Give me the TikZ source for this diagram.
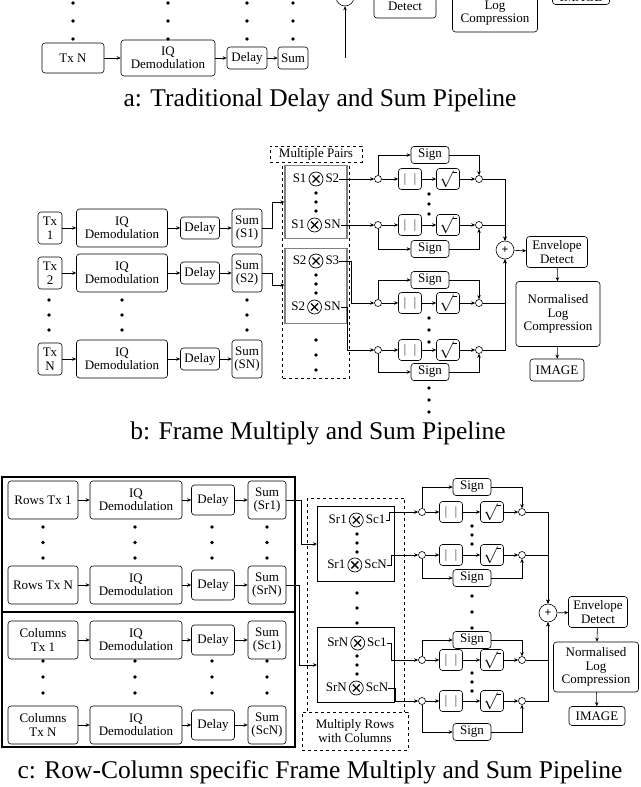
\documentclass[tikz,border=0pt]{standalone}
\usepackage{fontspec}
\setmainfont{Liberation Serif}
\usetikzlibrary{arrows.meta,calc}
\tikzset{
  bx/.style={draw, rounded corners=3pt, align=center, inner sep=0.5pt, font=\fontsize{13}{13.5}\selectfont},
  ar/.style={-{Stealth[length=4pt,width=3.5pt]}},
  dotc/.style={draw, circle, minimum size=7pt, inner sep=0pt, fill=white},
  sumc/.style={draw, circle, minimum size=18pt, inner sep=0pt, font=\bfseries\large},
  captxt/.style={font=\fontsize{25.5}{28}\selectfont},
  pairs/.style={font=\fontsize{13}{13.5}\selectfont, inner sep=0pt},
  grp/.style={draw=gray, line width=1.2pt},
  dsh/.style={draw, dashed},
}
\newcommand\vd[3]{\fill (#1,#2) circle (1.9pt) (#1,#2+#3) circle (1.9pt) (#1,#2+2*#3) circle (1.9pt);}
\newcommand\ox{\,\tikz[baseline={(0pt,-3.5pt)}]{\draw[line width=0.7pt] (0pt,0pt) circle (7pt); \draw[line width=1.3pt] (-3.5pt,-3.5pt)--(3.5pt,3.5pt) (-3.5pt,3.5pt)--(3.5pt,-3.5pt);}\,}
\newcommand\sq{\raisebox{-2pt}{\scalebox{1.4}{$\surd$}\hspace{-1pt}\rule[11pt]{4pt}{0.6pt}}}
% id, y, xcirc, xabs, xsqrt, xcomb, xsign, ysign
\newcommand\chainrow[8]{%
  \node[dotc] (#1a) at (#3,#2) {};
  \node[bx, minimum width=23pt, minimum height=21pt] (#1b) at (#4,#2) {$\vert\;\;\vert$};
  \node[bx, minimum width=23pt, minimum height=21pt, inner sep=0pt] (#1c) at (#5,#2) {\sq};
  \node[dotc] (#1d) at (#6,#2) {};
  \node[bx, minimum width=38pt, minimum height=17pt] (#1s) at (#7,#8) {Sign};
  \draw[ar] (#1a) -- (#1b);
  \draw[ar] (#1b) -- (#1c);
  \draw[ar] (#1c) -- (#1d);
  \draw[ar] (#1a) |- (#1s);
  \draw[ar] (#1s) -| (#1d);
}
\begin{document}
\begin{tikzpicture}[x=1pt,y=-1pt,line width=0.6pt]
\useasboundingbox (0,0) rectangle (640,787);
% ---------------- panel a -----------------
\vd{73}{3}{18}\vd{168}{3}{18}\vd{247}{3}{18}\vd{293}{3}{18}
\node[bx, minimum width=62pt, minimum height=30pt] (aTx) at (73,58) {Tx N};
\node[bx, minimum width=94pt, minimum height=36pt] (aIQ) at (168,58) {IQ\\Demodulation};
\node[bx, minimum width=40pt, minimum height=22pt] (aDe) at (247,58) {Delay};
\node[bx, minimum width=30pt, minimum height=22pt] (aSu) at (293,58) {Sum};
\draw[ar] (aTx) -- (aIQ); \draw[ar] (aIQ) -- (aDe); \draw[ar] (aDe) -- (aSu);
\node[sumc] (aP) at (345,-3) {+};
\coordinate (aIn) at (345,58);
\draw[ar] (aIn) -- (aP);
\coordinate (aL) at (328,-3);
\draw[ar] (aL) -- (aP);
\node[bx, minimum width=62pt, minimum height=38pt] (aEn) at (405,-1) {Envelope\\Detect};
\node[bx, minimum width=85pt, minimum height=52pt, align=center] (aLog) at (495,6) {Normalised\\Log\\Compression};
\node[bx, minimum width=57pt, minimum height=15pt] (aIm) at (581,-3) {IMAGE};
\draw[ar] (aP) -- (aEn); \draw[ar] (aEn.east|-aP) -- (aLog.west|-aP); \draw[ar] (aLog.east|-aP) -- (aIm);
\node[captxt] (capa) at (320,100) {a: Traditional Delay and Sum Pipeline};
% ---------------- panel b -----------------
\foreach \i/\y/\t/\s in {1/228/1/S1, 2/273/2/S2, 3/359/N/SN}{
  \node[bx, minimum width=24pt, minimum height=32pt] (bTx\i) at (50,\y) {Tx\\\t};
  \node[bx, minimum width=91pt, minimum height=38pt] (bIQ\i) at (122,\y) {IQ\\Demodulation};
  \node[bx, minimum width=39pt, minimum height=22pt] (bDe\i) at (200,\y) {Delay};
  \node[bx, minimum width=30pt, minimum height=38pt] (bSu\i) at (247,\y) {Sum\\(\s)};
  \draw[ar] (bTx\i) -- (bIQ\i); \draw[ar] (bIQ\i) -- (bDe\i); \draw[ar] (bDe\i) -- (bSu\i);
}
\vd{49}{300}{15}\vd{122}{300}{15}\vd{247}{300}{15}
\node[dsh, font=\fontsize{13}{13.5}\selectfont, minimum width=92pt, minimum height=16pt, inner sep=0pt] (bMP) at (316,154) {Multiple Pairs};
\node[dsh, minimum width=67pt, minimum height=216pt] (bDash) at (316,270) {};
\node[grp, minimum width=62pt, minimum height=73pt] (bG1) at (316,202) {};
\node[grp, minimum width=62pt, minimum height=75pt] (bG2) at (316,286) {};
\node[pairs] (bp1) at (316,179) {S1\ox S2};
\node[pairs] (bp2) at (316,225) {S1\ox SN};
\node[pairs] (bp3) at (316,261) {S2\ox S3};
\node[pairs] (bp4) at (316,307) {S2\ox SN};
\vd{316}{193}{9}\vd{316}{275}{9}\vd{316}{340}{15}
\draw[ar] (bSu1.east) -- ++(10,0) |- (bG1.west);
\draw[ar] (bSu2.east) -- ++(10,0) |- ($(bG2.west)+(0,-1)$);
\chainrow{br1}{179}{378}{410}{448}{479}{430}{155}
\chainrow{br2}{225}{378}{410}{448}{479}{430}{249}
\chainrow{br3}{303}{378}{410}{448}{479}{430}{280}
\chainrow{br4}{350}{378}{410}{448}{479}{430}{372}
\vd{429}{194}{10}\vd{429}{318}{12}\vd{429}{388}{12}
\draw[ar] (bp1.east) -- (br1a);
\draw[ar] (bp2.east) -- (br2a);
\draw[ar] (bp3.east) -- ++(12,0) |- (br3a);
\draw[ar] (bp4.east) -- ++(6,0) |- (br4a);
\node[sumc] (bP) at (505,250) {+};
\draw[ar] (br1d) -| (bP); \draw[ar] (br2d) -| (bP);
\draw[ar] (br3d) -| (bP); \draw[ar] (br4d) -| (bP);
\node[bx, minimum width=61pt, minimum height=31pt] (bEn) at (557,252) {Envelope\\Detect};
\node[bx, minimum width=84pt, minimum height=65pt] (bLog) at (558,314) {Normalised\\Log\\Compression};
\node[bx, minimum width=54pt, minimum height=22pt] (bIm) at (557,370) {IMAGE};
\draw[ar] (bP) -- (bEn); \draw[ar] (bEn) -- (bLog); \draw[ar] (bLog) -- (bIm);
\node[captxt] (capb) at (318,433) {b: Frame Multiply and Sum Pipeline};
% ---------------- panel c -----------------
\draw[line width=1.8pt] (2,477) rectangle (295,612);
\draw[line width=1.8pt] (2,612) rectangle (295,747);
\foreach \i/\y/\t/\s in {1/500/Rows Tx 1/Sr1, 2/585/Rows Tx N/SrN, 3/640/Columns\\Tx 1/Sc1, 4/725/Columns\\Tx N/ScN}{
  \node[bx, minimum width=70pt, minimum height=38pt] (cTx\i) at (43,\y) {\t};
  \node[bx, minimum width=92pt, minimum height=38pt] (cIQ\i) at (136,\y) {IQ\\Demodulation};
  \node[bx, minimum width=43pt, minimum height=30pt] (cDe\i) at (213,\y) {Delay};
  \node[bx, minimum width=38pt, minimum height=38pt] (cSu\i) at (267,\y) {Sum\\(\s)};
  \draw[ar] (cTx\i) -- (cIQ\i); \draw[ar] (cIQ\i) -- (cDe\i); \draw[ar] (cDe\i) -- (cSu\i);
}
\foreach \x in {43,135,212,267}{\vd{\x}{527}{15.5}\vd{\x}{661}{16}}
\node[dsh, minimum width=97pt, minimum height=214pt] (cDash) at (356,605) {};
\node[dsh, font=\fontsize{13}{13.5}\selectfont, minimum width=106pt, minimum height=38pt, inner sep=0pt, fill=white, align=center] (cMR) at (355,731) {Multiply Rows\\with Columns};
\node[draw, line width=1pt, minimum width=77pt, minimum height=75pt, fill=white] (cG1) at (356,544) {};
\node[draw, line width=1pt, minimum width=77pt, minimum height=75pt, fill=white] (cG2) at (356,665) {};
\node[pairs] (cp1) at (357,520) {Sr1\ox Sc1};
\node[pairs] (cp2) at (357,565) {Sr1\ox ScN};
\node[pairs] (cp3) at (357,643) {SrN\ox Sc1};
\node[pairs] (cp4) at (357,688) {SrN\ox ScN};
\vd{357}{534}{9}\vd{357}{656}{9}\vd{357}{593}{15}
\draw[ar] (cSu1.east) -- ++(15,0) |- (cG1.west);
\draw[ar] (cSu2.east) -- ++(13,0) |- (cG2.west);
\chainrow{cr1}{512}{422}{451}{492}{522}{472}{487}
\chainrow{cr2}{555}{422}{451}{492}{522}{472}{578}
\chainrow{cr3}{660}{422}{451}{492}{522}{472}{640}
\chainrow{cr4}{701}{422}{451}{492}{522}{472}{732}
\vd{472}{526}{9}\vd{472}{596}{16}\vd{472}{673}{9}
\draw[ar] (cp1.east) -- ++(4,0) |- (cr1a);
\draw[ar] (cp2.east) -- ++(4,0) |- (cr2a);
\draw[ar] (cp3.east) -- ++(4,0) |- (cr3a);
\draw[ar] (cp4.east) -- ++(7,0) |- (cr4a);
\node[sumc] (cP) at (548,613) {+};
\draw[ar] (cr1d) -| (cP); \draw[ar] (cr2d) -| (cP);
\draw[ar] (cr3d) -| (cP); \draw[ar] (cr4d) -| (cP);
\node[bx, minimum width=59pt, minimum height=31pt] (cEn) at (598,612) {Envelope\\Detect};
\node[bx, minimum width=85pt, minimum height=50pt] (cLog) at (596,667) {Normalised\\Log\\Compression};
\node[bx, minimum width=56pt, minimum height=19pt] (cIm) at (597,716) {IMAGE};
\draw[ar] (cP) -- (cEn); \draw[ar] (cEn) -- (cLog); \draw[ar] (cLog) -- (cIm);
\node[captxt] (capc) at (320,772) {c: Row-Column specific Frame Multiply and Sum Pipeline};
\end{tikzpicture}
\end{document}
